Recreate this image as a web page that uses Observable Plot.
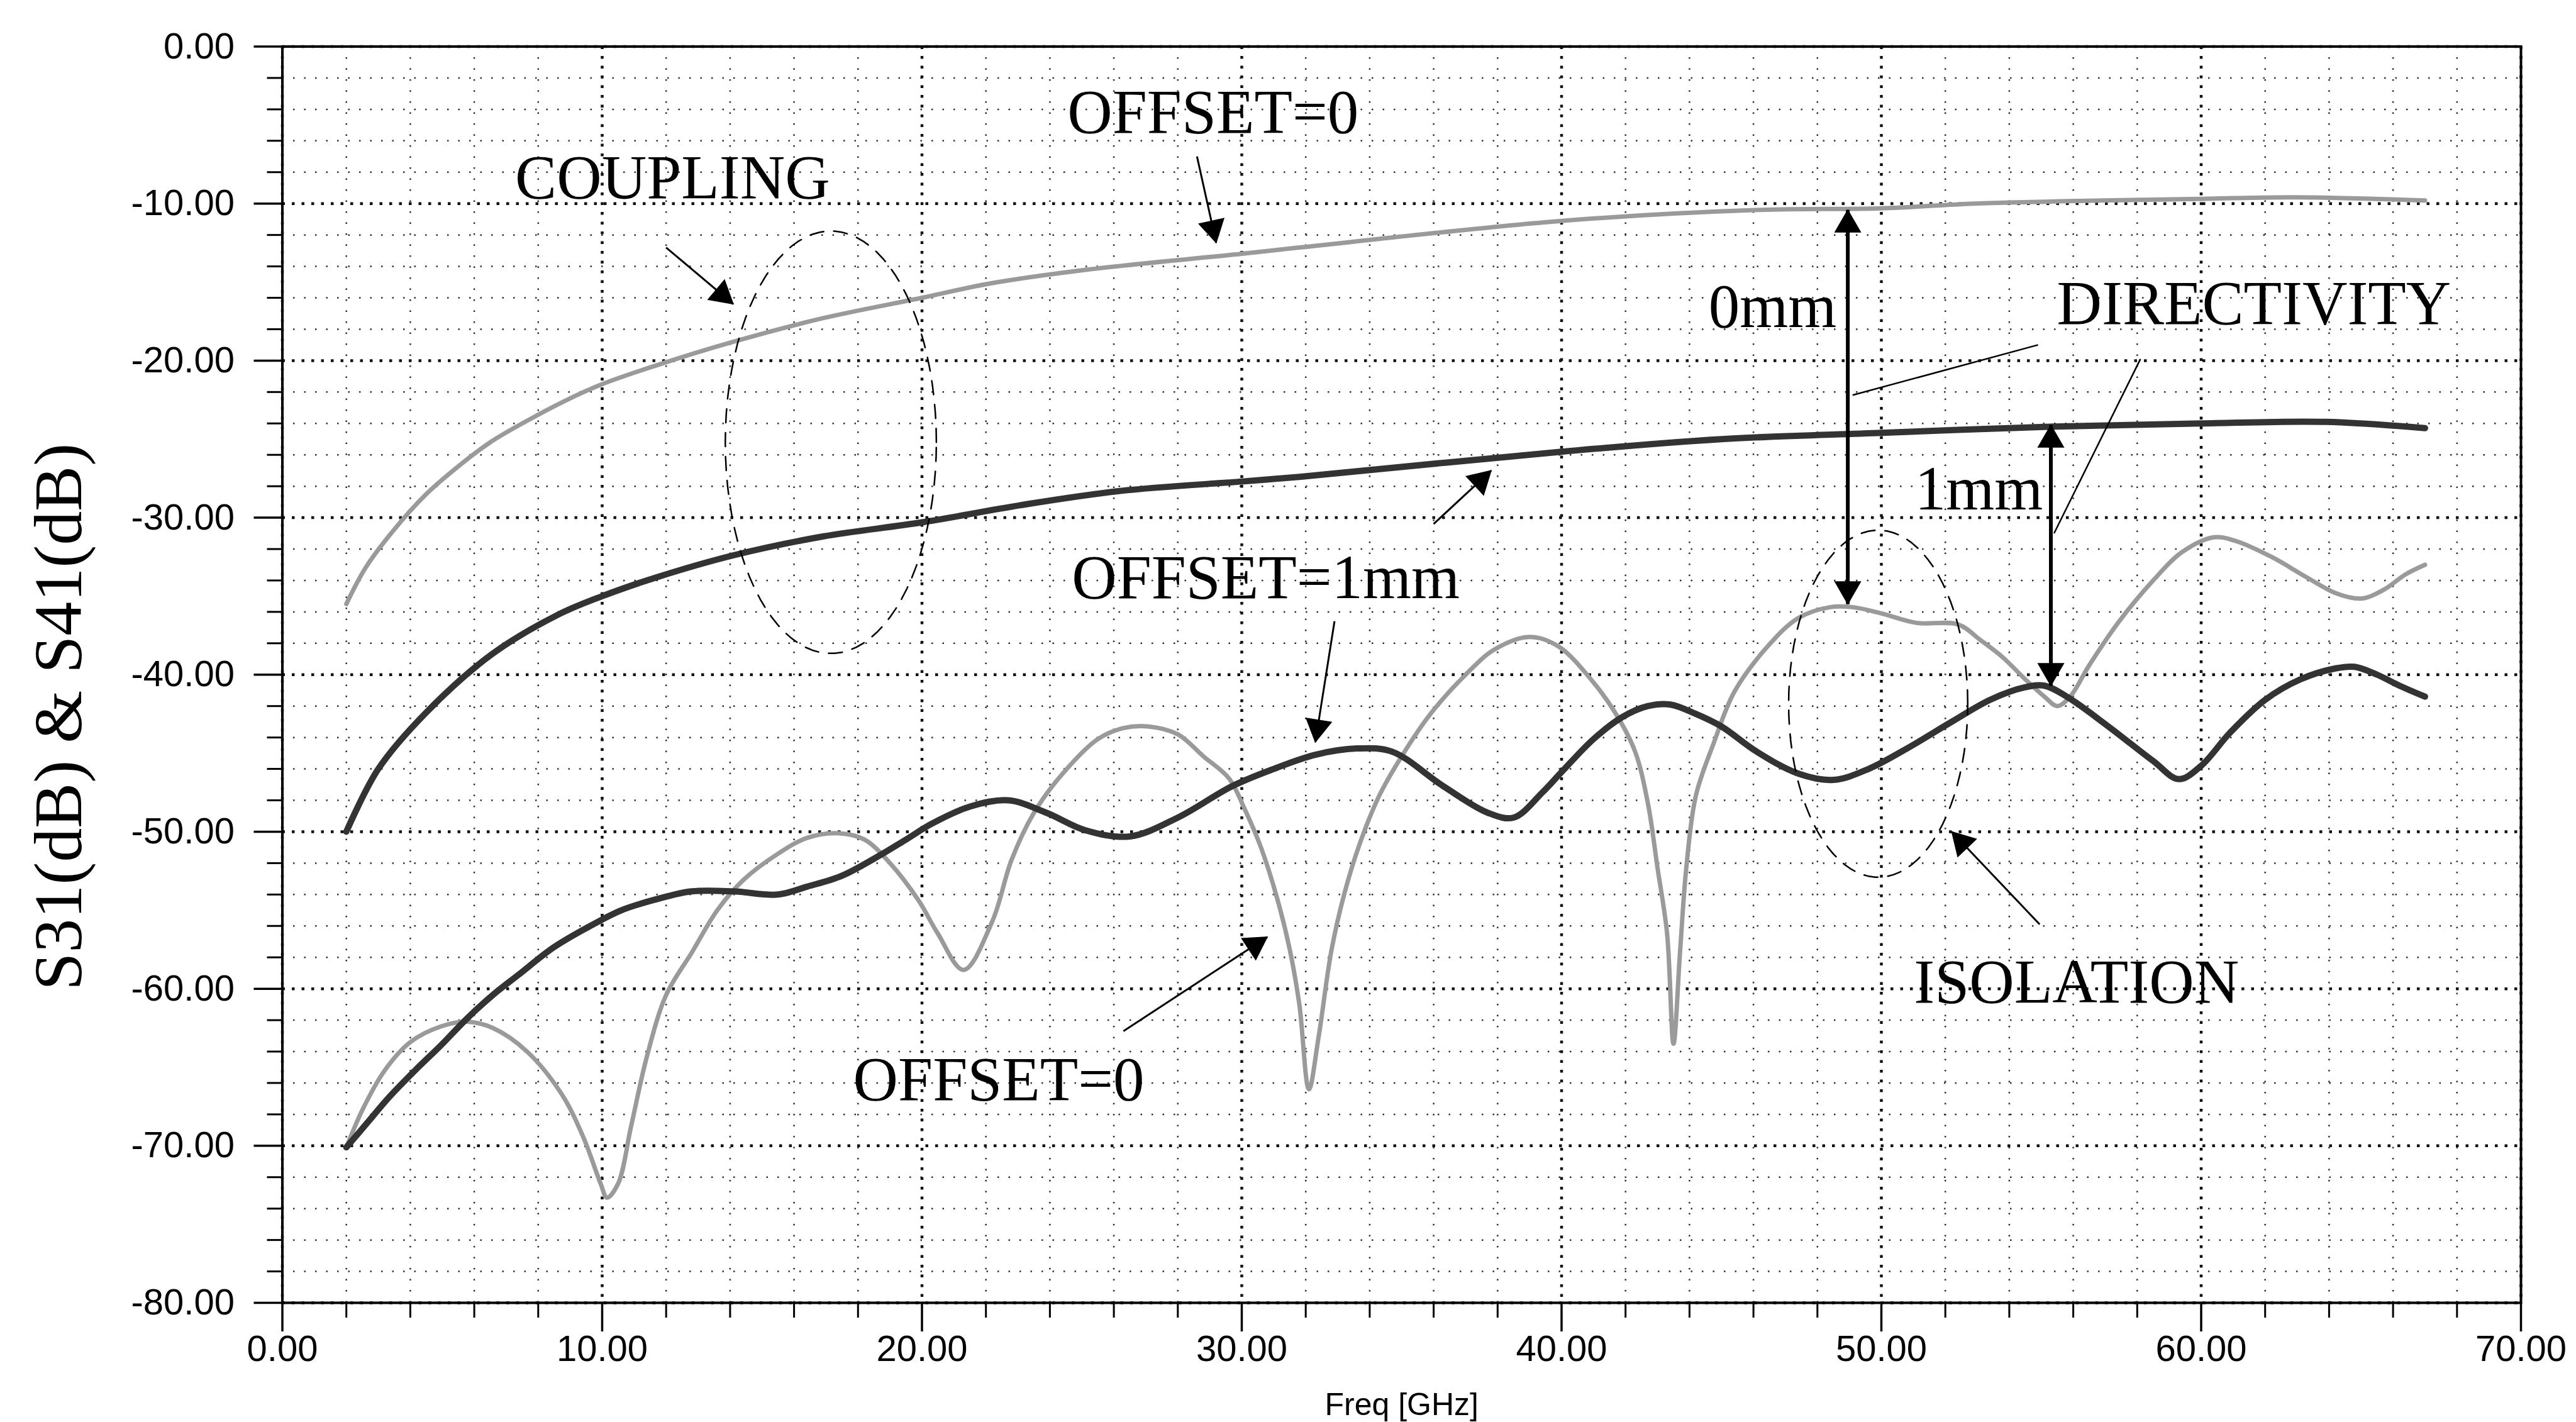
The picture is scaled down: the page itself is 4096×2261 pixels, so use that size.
<!DOCTYPE html>
<html><head><meta charset="utf-8">
<script src="https://cdn.jsdelivr.net/npm/d3@7"></script>
<script src="https://cdn.jsdelivr.net/npm/@observablehq/plot@0.6"></script>
<style>
html,body{margin:0;padding:0;background:#fff;}
#chart svg{display:block;}
</style></head><body><div id="chart"></div>
<script>
// ---- tick values ----
const xMajorTicks = [0, 10, 20, 30, 40, 50, 60, 70];
const xMinorTicks = [2,4,6,8,12,14,16,18,22,24,26,28,32,34,36,38,42,44,46,48,52,54,56,58,62,64,66,68];
const yMajorTicks = [0, -10, -20, -30, -40, -50, -60, -70, -80];
const yMinorTicks = [-2,-4,-6,-8,-12,-14,-16,-18,-22,-24,-26,-28,-32,-34,-36,-38,-42,-44,-46,-48,-52,-54,-56,-58,-62,-64,-66,-68,-72,-74,-76,-78];

// ---- coupling, offset = 0 ----
const c0Freq = [2.0, 2.6, 3.44, 4.5, 5.52, 6.5, 7.59, 8.8, 10, 11.7, 14.1, 16.9, 20, 22.1, 25.2, 30, 31.8, 40, 46.2, 50, 52.9, 56.9, 60, 62.9, 67];
const c0DB   = [-35.5, -33.2, -30.9, -28.5, -26.7, -25.2, -23.9, -22.6, -21.5, -20.3, -18.8, -17.3, -16.0, -15.1, -14.2, -13.2, -12.8, -11.1, -10.4, -10.3, -10.0, -9.8, -9.7, -9.6, -9.8];

// ---- coupling, offset = 1mm ----
const c1Freq = [2.0, 3.0, 4.5, 6.55, 8.6, 10, 11.7, 14.1, 16.9, 20, 23.1, 26.2, 30, 31.8, 40, 45, 50, 55.4, 60, 63.9, 67];
const c1DB   = [-50.0, -46.0, -42.4, -38.7, -36.2, -35.0, -33.8, -32.4, -31.2, -30.3, -29.2, -28.3, -27.7, -27.4, -25.8, -25.0, -24.6, -24.2, -24.0, -23.9, -24.3];

// ---- isolation, offset = 0 ----
const i0Freq = [2.0,2.53,3.2,4.0,4.96,5.77,6.58,7.65,8.73,9.4,9.95,10.15,10.5,10.9,11.4,12.0,12.8,13.6,14.4,15.5,16.4,17.4,18.2,19.0,19.9,20.5,21.3,22.2,22.8,23.5,24.4,25.5,26.3,27.1,28.0,28.8,29.6,30.1,30.6,31.1,31.5,31.8,32.1,32.4,32.8,33.2,33.7,34.3,35.0,35.9,37.0,37.9,39.0,39.9,41.0,41.7,42.3,42.7,43.0,43.3,43.5,43.7,43.9,44.2,44.75,45.4,46.4,47.4,48.4,49.1,50.0,51.1,52.4,53.1,53.8,54.5,55.1,55.5,55.9,56.5,57.4,58.5,59.4,60.4,61.1,62.2,63.3,64.2,65.0,65.7,66.4,67.0];
const i0DB   = [-70.1,-67.6,-65.2,-63.4,-62.4,-62.1,-62.5,-64.0,-66.7,-69.4,-72.4,-73.3,-72.4,-68.8,-64.3,-60.4,-57.7,-55.0,-53.1,-51.4,-50.4,-50.1,-50.5,-52.0,-54.4,-56.5,-58.8,-55.7,-51.8,-48.8,-46.3,-44.1,-43.4,-43.3,-43.8,-45.2,-46.6,-48.6,-51.0,-54.2,-57.5,-61.0,-66.4,-63.1,-57.6,-54.0,-50.7,-47.7,-45.2,-42.5,-40.0,-38.4,-37.6,-38.2,-40.5,-42.5,-44.9,-48.2,-52.3,-56.5,-63.5,-57.8,-52.3,-47.7,-44.4,-41.1,-38.3,-36.4,-35.7,-35.7,-36.1,-36.7,-36.8,-37.8,-38.9,-40.3,-41.4,-42.0,-41.4,-39.4,-36.7,-34.0,-32.2,-31.25,-31.5,-32.5,-33.8,-34.8,-35.15,-34.6,-33.6,-33.0];

// ---- isolation, offset = 1mm ----
const i1Freq = [2.0,2.67,3.34,4.15,4.96,5.77,6.58,7.39,8.46,9.54,10.6,11.7,12.8,14.1,15.5,16.4,17.5,18.6,19.5,20.3,21.5,22.7,23.9,25.1,26.5,28.0,29.7,31.0,32.3,33.6,34.7,36.3,37.7,38.5,39.4,40.0,41.0,41.9,42.7,43.4,44.2,45.0,46.1,47.4,48.5,49.6,50.8,52.2,53.4,54.5,55.1,55.8,57.1,58.5,59.3,60.0,60.9,62.0,63.1,64.2,64.8,65.5,66.2,67.0];
const i1DB   = [-70.1,-68.5,-66.9,-65.2,-63.6,-61.9,-60.4,-59.1,-57.4,-56.1,-55.0,-54.3,-53.8,-53.8,-54.0,-53.5,-52.8,-51.6,-50.5,-49.5,-48.4,-48.0,-48.8,-49.9,-50.3,-49.1,-47.1,-46.0,-45.1,-44.7,-44.9,-47.1,-48.8,-49.1,-47.5,-46.2,-44.1,-42.7,-42.0,-41.9,-42.5,-43.3,-44.9,-46.3,-46.7,-46.0,-44.7,-43.0,-41.6,-40.8,-40.7,-41.4,-43.3,-45.5,-46.65,-45.8,-43.7,-41.6,-40.3,-39.6,-39.5,-40.0,-40.7,-41.4];

// ---- annotations ----
const annoLabels = ["OFFSET=0", "COUPLING", "0mm", "DIRECTIVITY", "1mm", "OFFSET=1mm", "ISOLATION", "OFFSET=0"];
const annoX = [29.1, 12.2, 46.6, 61.65, 53.05, 30.75, 56.1, 22.4];
const annoY = [-4.2, -8.4, -16.6, -16.4, -28.2, -33.85, -59.6, -65.8];

const arrowX1 = [28.6, 12.0, 36.0, 32.9, 26.3, 54.95];
const arrowY1 = [-7.0, -12.8, -30.4, -36.6, -62.7, -55.9];
const arrowX2 = [29.2, 14.1, 37.8, 32.3, 30.8, 52.2];
const arrowY2 = [-12.5, -16.4, -27.0, -44.3, -56.7, -50.0];

const dimX = [48.95, 55.3];
const dimTop = [-10.4, -24.1];
const dimBottom = [-35.5, -40.7];

const leaderX1 = [54.9, 58.1];
const leaderY1 = [-19.0, -19.9];
const leaderX2 = [49.1, 55.4];
const leaderY2 = [-22.2, -31.0];

const ellipseCX = [17.15, 49.9];
const ellipseCY = [-25.2, -41.85];
const ellipseRX = [3.3, 2.8];
const ellipseRY = [13.45, 11.05];

const yTitle = "S31(dB) & S41(dB)";
const xTitle = "Freq [GHz]";

// ---- layout ----
const W = 4096, H = 2261;
const ML = 448.5, MR = 88, MT = 73.5, MB = 190;
const pxPerX = (W - ML - MR) / 70;
const pxPerY = (H - MT - MB) / 80;
const headR = 16;

const toRows = (fs, vs) => fs.map((f, i) => ({f, v: vs[i]}));

// arrow segments (for heads)
const segs = [];
arrowX1.forEach((x1, i) => segs.push({x1, y1: arrowY1[i], x2: arrowX2[i], y2: arrowY2[i], w: 3}));
const dims = [];
dimX.forEach((x, i) => {
  const mid = (dimTop[i] + dimBottom[i]) / 2;
  dims.push({x1: x, y1: dimBottom[i], x2: x, y2: dimTop[i]});
  segs.push({x1: x, y1: mid, x2: x, y2: dimTop[i], head: true});
  segs.push({x1: x, y1: mid, x2: x, y2: dimBottom[i], head: true});
});
const heads = segs.map(s => {
  const dxp = (s.x2 - s.x1) * pxPerX;
  const dyp = -(s.y2 - s.y1) * pxPerY;
  const len = Math.hypot(dxp, dyp);
  const ux = dxp / len, uy = dyp / len;
  const off = 1.555 * headR * 0.95;
  return {
    x: s.x2 - ux * off / pxPerX,
    y: s.y2 + uy * off / pxPerY,
    a: Math.atan2(dxp, -dyp) * 180 / Math.PI
  };
});
const leaders = leaderX1.map((x1, i) => ({x1, y1: leaderY1[i], x2: leaderX2[i], y2: leaderY2[i]}));
const ellipsePts = ellipseCX.flatMap((cx, i) => d3.range(0, 361, 4).map(a => ({
  e: i,
  x: cx + ellipseRX[i] * Math.cos(a * Math.PI / 180),
  y: ellipseCY[i] + ellipseRY[i] * Math.sin(a * Math.PI / 180)
})));
const annos = annoLabels.map((t, i) => ({t, x: annoX[i], y: annoY[i]}));

const serif = "'Liberation Serif', 'Times New Roman', serif";
const sans = "'Liberation Sans', Arial, sans-serif";
const fmt = d => d.toFixed(2);

const lightC = "#9a9a9a", darkC = "#333333";

const chart = Plot.plot({
  width: W, height: H,
  marginLeft: ML, marginRight: MR, marginTop: MT, marginBottom: MB,
  x: {domain: [0, 70]},
  y: {domain: [-80, 0]},
  style: {background: "white", overflow: "visible"},
  marks: [
    // grid
    Plot.ruleX(xMinorTicks, {stroke: "#333", strokeWidth: 2.5, strokeDasharray: "2.5,15"}),
    Plot.ruleY(yMinorTicks, {stroke: "#333", strokeWidth: 2.5, strokeDasharray: "2.5,15"}),
    Plot.ruleX(xMajorTicks, {stroke: "#111", strokeWidth: 4.5, strokeDasharray: "4.5,11"}),
    Plot.ruleY(yMajorTicks, {stroke: "#111", strokeWidth: 4.5, strokeDasharray: "4.5,11"}),
    // axes
    Plot.axisX({ticks: xMajorTicks, anchor: "bottom", tickSize: 46, tickPadding: 5, tickFormat: fmt,
      fontSize: 58, fontFamily: sans, strokeWidth: 3.5, stroke: "black", color: "black", label: null}),
    Plot.axisX({ticks: xMinorTicks, anchor: "bottom", tickSize: 24, tickFormat: () => "",
      strokeWidth: 3, stroke: "black", label: null}),
    Plot.axisY({ticks: yMajorTicks, anchor: "left", tickSize: 45, tickPadding: 31, tickFormat: fmt,
      fontSize: 58, fontFamily: sans, strokeWidth: 3.5, stroke: "black", color: "black", label: null}),
    Plot.axisY({ticks: yMinorTicks, anchor: "left", tickSize: 24, tickFormat: () => "",
      strokeWidth: 3, stroke: "black", label: null}),
    Plot.frame({stroke: "black", strokeWidth: 4}),
    // curves
    Plot.line(toRows(c0Freq, c0DB), {x: "f", y: "v", stroke: lightC, strokeWidth: 7, curve: "catmull-rom"}),
    Plot.line(toRows(i0Freq, i0DB), {x: "f", y: "v", stroke: lightC, strokeWidth: 7, curve: "catmull-rom"}),
    Plot.line(toRows(c1Freq, c1DB), {x: "f", y: "v", stroke: darkC, strokeWidth: 10, curve: "catmull-rom"}),
    Plot.line(toRows(i1Freq, i1DB), {x: "f", y: "v", stroke: darkC, strokeWidth: 10, curve: "catmull-rom"}),
    // ellipses
    Plot.line(ellipsePts, {x: "x", y: "y", z: "e", stroke: "black", strokeWidth: 2.5, strokeDasharray: "22,16"}),
    // arrows
    Plot.link(segs.filter(s => !s.head), {x1: "x1", y1: "y1", x2: "x2", y2: "y2", stroke: "black", strokeWidth: 3}),
    Plot.link(dims, {x1: "x1", y1: "y1", x2: "x2", y2: "y2", stroke: "black", strokeWidth: 6}),
    Plot.link(leaders, {x1: "x1", y1: "y1", x2: "x2", y2: "y2", stroke: "black", strokeWidth: 2.5}),
    Plot.dot(heads, {x: "x", y: "y", rotate: "a", symbol: "triangle", r: headR, fill: "black", stroke: "none"}),
    // annotation texts
    Plot.text(annos, {x: "x", y: "y", text: "t", fontFamily: serif, fontSize: 99, fill: "black",
      textAnchor: "middle", lineAnchor: "middle"}),
    // axis titles
    Plot.text([yTitle], {frameAnchor: "left", dx: 94 - ML, dy: 67, rotate: -90, textAnchor: "middle",
      lineAnchor: "middle", fontFamily: serif, fontSize: 108, fill: "black"}),
    Plot.text([xTitle], {frameAnchor: "bottom", dy: 162, textAnchor: "middle", lineAnchor: "middle",
      fontFamily: sans, fontSize: 50, fill: "black"})
  ]
});
document.getElementById("chart").append(chart);
</script>
</body></html>
